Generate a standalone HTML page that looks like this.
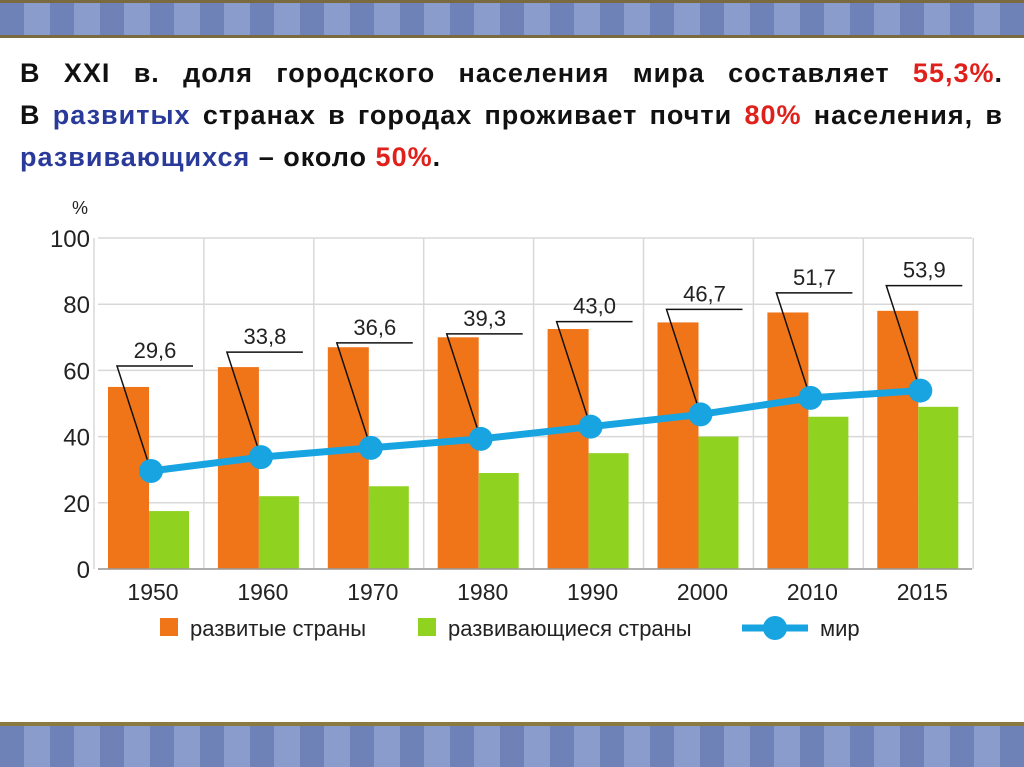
<!DOCTYPE html>
<html><head><meta charset="utf-8"><style>
body{margin:0;width:1024px;height:767px;overflow:hidden;background:#fff;font-family:"Liberation Sans",sans-serif}
.border{position:absolute;left:0;width:1024px;background:repeating-linear-gradient(90deg,#6f82b8 0 24px,#8a9ccc 24px 50px);}
.title{position:absolute;left:20px;top:52px;width:983px;font-weight:bold;font-size:27px;letter-spacing:1px;line-height:42px;color:#111}
.title div{text-align:justify;text-align-last:justify;white-space:nowrap}
.title div.last{text-align-last:left}
.r{color:#e0211b}.b{color:#2a3a9a}
</style></head><body>
<div class="border" style="top:0;height:38px;border-bottom:3px solid #7a6a40;border-top:3px solid #7a6a40;box-sizing:border-box"></div>
<div class="border" style="top:722px;height:45px;border-top:4px solid #8a7a40;box-sizing:border-box"></div>
<div class="title">
<div style="white-space:normal">В XXI в. доля городского населения мира составляет <span class="r">55,3%</span>.</div>
<div style="white-space:normal">В <span class="b">развитых</span> странах в городах проживает почти <span class="r">80%</span> населения, в</div>
<div class="last"><span class="b">развивающихся</span> – около <span class="r">50%</span>.</div>
</div>
<svg id="chart" width="1024" height="767" style="position:absolute;left:0;top:0" font-family="Liberation Sans, sans-serif"></svg>
<script>
const years=["1950","1960","1970","1980","1990","2000","2010","2015"];
const developed=[55,61,67,70,72.5,74.5,77.5,78];
const developing=[17.5,22,25,29,35,40,46,49];
const world=[29.6,33.8,36.6,39.3,43.0,46.7,51.7,53.9];
const worldLabels=["29,6","33,8","36,6","39,3","43,0","46,7","51,7","53,9"];
const yTicks=[0,20,40,60,80,100];
const svg=document.getElementById('chart');
const NS='http://www.w3.org/2000/svg';
const y=v=>569-v*3.31;
const x=i=>149+i*109.9;
function mk(t,a){const e=document.createElementNS(NS,t);for(const k in a)e.setAttribute(k,a[k]);svg.appendChild(e);return e;}
yTicks.forEach(v=>{
 const g=mk('line',{x1:98,x2:972,y1:y(v),y2:y(v),stroke:'#d8d8d8','stroke-width':1.5});
 
 const t=mk('text',{x:90,y:y(v)+9,'text-anchor':'end','font-size':24,fill:'#222'});t.textContent=v;
 
});
const pc=mk('text',{x:80,y:214,'text-anchor':'middle','font-size':18,fill:'#222'});pc.textContent='%';

for(let i=0;i<=8;i++){const l=mk('line',{x1:x(i)-55,x2:x(i)-55,y1:y(100),y2:y(0),stroke:'#d8d8d8','stroke-width':1.5});
 }
years.forEach((yr,i)=>{
 const a=mk('rect',{x:x(i)-41,y:y(developed[i]),width:41,height:y(0)-y(developed[i]),fill:'#f07519'});
 
 const b=mk('rect',{x:x(i),y:y(developing[i]),width:40,height:y(0)-y(developing[i]),fill:'#8fd320'});
 
 const t=mk('text',{x:x(i)+4,y:600,'text-anchor':'middle','font-size':23,fill:'#222'});t.textContent=yr;
 
});
mk('line',{x1:98,x2:972,y1:y(0),y2:y(0),stroke:'#999','stroke-width':1.5});
const pts=world.map((v,i)=>(x(i)+2)+','+y(v)).join(' ');
const pl=mk('polyline',{points:pts,fill:'none',stroke:'#18a4e0','stroke-width':7});

world.forEach((v,i)=>{
 const px=x(i)+2,py=y(v),ly=py-105,lx=px-34;
 const s=mk('polyline',{points:`${px},${py} ${lx},${ly} ${lx+76},${ly}`,fill:'none',stroke:'#111','stroke-width':1.5});
 
 const c=mk('circle',{cx:px,cy:py,r:12,fill:'#18a4e0'});
 
 const t=mk('text',{x:lx+38,y:ly-8,'text-anchor':'middle','font-size':22,fill:'#222'});t.textContent=worldLabels[i];
 
});
let r=mk('rect',{x:160,y:618,width:18,height:18,fill:'#f07519'});
let t=mk('text',{x:190,y:636,'font-size':22,fill:'#222'});t.textContent='развитые страны';
r=mk('rect',{x:418,y:618,width:18,height:18,fill:'#8fd320'});
t=mk('text',{x:448,y:636,'font-size':22,fill:'#222'});t.textContent='развивающиеся страны';
r=mk('line',{x1:742,x2:808,y1:628,y2:628,stroke:'#18a4e0','stroke-width':7});
r=mk('circle',{cx:775,cy:628,r:12,fill:'#18a4e0'});
t=mk('text',{x:820,y:636,'font-size':22,fill:'#222'});t.textContent='мир';
</script>
</body></html>
